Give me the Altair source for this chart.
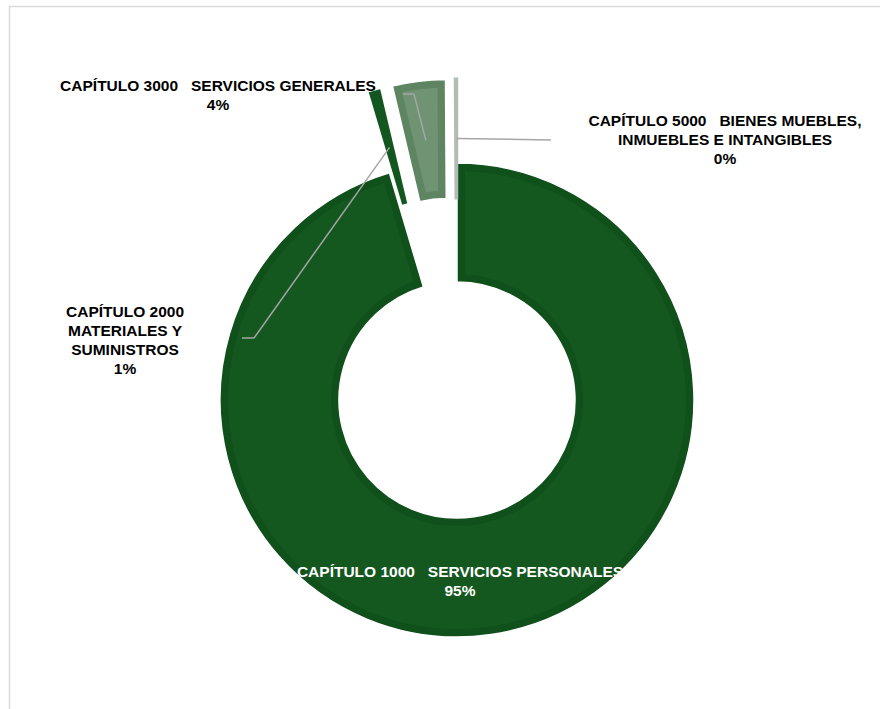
import altair as alt
import pandas as pd

# ---- data ----
categories = [
    "CAPÍTULO 1000   SERVICIOS PERSONALES",
    "CAPÍTULO 2000   MATERIALES Y SUMINISTROS",
    "CAPÍTULO 3000   SERVICIOS GENERALES",
    "CAPÍTULO 5000   BIENES MUEBLES, INMUEBLES E INTANGIBLES",
]
values = [95.4, 0.9, 3.6, 0.1]

# ---- label wrapping, as in the original (non-breaking spaces keep the gaps) ----
SP = "\u00a0\u00a0 "
label_lines = [
    ["CAPÍTULO 1000" + SP + "SERVICIOS PERSONALES"],
    ["CAPÍTULO 2000", "MATERIALES Y", "SUMINISTROS"],
    ["CAPÍTULO 3000" + SP + "SERVICIOS GENERALES"],
    ["CAPÍTULO 5000" + SP + "BIENES MUEBLES,", "INMUEBLES E INTANGIBLES"],
]

# ---- layout (pixels; y is the first line's centre) ----
label_x = [460, 125, 218, 725]
label_y = [572, 312, 85.5, 121]
leader_x1 = [None, 242, 403, 551]
leader_y1 = [None, 338, 94, 140]
leader_x2 = [None, 254, 414, 551]
leader_y2 = [None, 338, 94, 140]

# ---- styles ----
fill_outer = ["#10501A", "#145620", "#5E8462", "#B3BCB3"]
fill_inner = ["#14581F", "#145620", "#6F9373", "#B3BCB3"]
stroke_col = ["#FFFFFF", "#FFFFFF", "#FFFFFF", "#B3BCB3"]

CX, CY = 457, 400
R_OUT, R_IN = 237, 118
EXPLODE = 84

df = pd.DataFrame({
    "order": list(range(len(categories))),
    "category": categories,
    "value": values,
    "wrapped": ["\n".join(l) for l in label_lines],
    "lx": label_x,
    "ly": label_y,
    "e1x": leader_x1,
    "e1y": leader_y1,
    "e2x": leader_x2,
    "e2y": leader_y2,
})

base = (
    alt.Chart(df)
    .transform_joinaggregate(total="sum(value)")
    .transform_window(cum="sum(value)", sort=[alt.SortField("order")], frame=[None, 0])
    .transform_calculate(
        t1="2*PI*datum.cum/datum.total",
        t0="2*PI*(datum.cum-datum.value)/datum.total",
    )
    .transform_calculate(mid="(datum.t0+datum.t1)/2")
    .transform_calculate(d=f"datum.value < 50 ? {EXPLODE} : 0")
    .transform_calculate(
        cx=f"{CX} + datum.d*sin(datum.mid)",
        cy=f"{CY} - datum.d*cos(datum.mid)",
    )
    .transform_calculate(
        ax=f"datum.cx + {(R_OUT + R_IN) / 2}*sin(datum.mid)",
        ay=f"datum.cy - {(R_OUT + R_IN) / 2}*cos(datum.mid)",
        pct="format(datum.value/datum.total, '.0%')",
        sw="datum.value < 0.5 ? 3 : 1.5",
        tc="datum.order == 0 ? '#FFFFFF' : '#000000'",
    )
    .transform_calculate(label="datum.wrapped + '\\n' + datum.pct")
)

pos = dict(
    x=alt.X("cx:Q", scale=None, axis=None),
    y=alt.Y("cy:Q", scale=None, axis=None),
    theta=alt.Theta("t0:Q", scale=None, stack=False),
    theta2=alt.Theta2("t1:Q"),
)

arcs_outer = base.mark_arc(radius=R_OUT, radius2=R_IN).encode(
    color=alt.Color("category:N", scale=alt.Scale(domain=categories, range=fill_outer), legend=None),
    stroke=alt.Stroke("category:N", scale=alt.Scale(domain=categories, range=stroke_col), legend=None),
    strokeWidth=alt.StrokeWidth("sw:Q", scale=None),
    **pos,
)

arcs_inner = base.transform_filter("datum.value >= 2").mark_arc(
    radius=R_OUT - 8, radius2=R_IN + 8, padAngle=0.061
).encode(
    color=alt.Color("category:N", scale=alt.Scale(domain=categories, range=fill_inner), legend=None),
    **pos,
)

lead1 = base.transform_filter("isValid(datum.e1x)").mark_rule(color="#A6A6A6", strokeWidth=1.5).encode(
    x=alt.X("e1x:Q", scale=None, axis=None),
    y=alt.Y("e1y:Q", scale=None, axis=None),
    x2=alt.X2("e2x:Q"),
    y2=alt.Y2("e2y:Q"),
)
lead2 = base.transform_filter("isValid(datum.e1x)").mark_rule(color="#A6A6A6", strokeWidth=1.5).encode(
    x=alt.X("e2x:Q", scale=None, axis=None),
    y=alt.Y("e2y:Q", scale=None, axis=None),
    x2=alt.X2("ax:Q"),
    y2=alt.Y2("ay:Q"),
)

labels = base.mark_text(
    font="Liberation Sans", fontSize=15.5, fontWeight="bold",
    lineBreak="\n", lineHeight=19, align="center", baseline="middle",
).encode(
    x=alt.X("lx:Q", scale=None, axis=None),
    y=alt.Y("ly:Q", scale=None, axis=None),
    text=alt.Text("label:N"),
    color=alt.Color("tc:N", scale=None),
)

frame = alt.Chart(pd.DataFrame({"k": [0]})).mark_rect(
    filled=False, stroke="#D9D9D9", strokeWidth=1.5
).encode(
    x=alt.value(9.5), y=alt.value(6.5), x2=alt.value(1200), y2=alt.value(1200)
)

chart = (
    alt.layer(frame, arcs_outer, arcs_inner, lead1, lead2, labels)
    .resolve_scale(color="independent", stroke="independent")
    .properties(width=880, height=709, padding=0, autosize=alt.AutoSizeParams(type="none"))
    .configure_view(strokeWidth=0)
)

chart.save("out.html", embed_options={"renderer": "svg", "actions": False})
